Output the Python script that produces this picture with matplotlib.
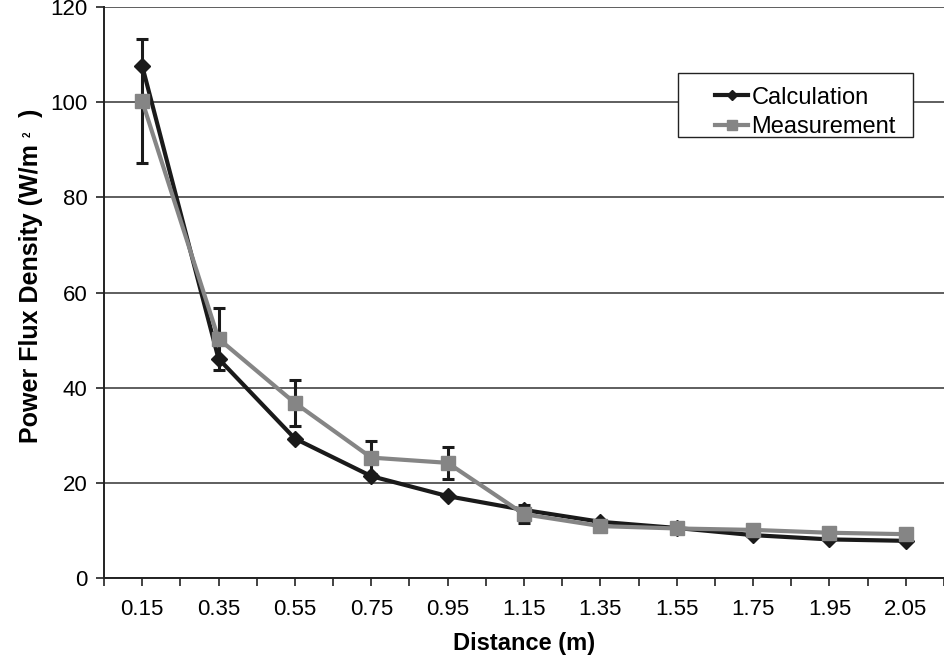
import matplotlib.pyplot as plt
from matplotlib.patches import Rectangle
import numpy as np

plt.rcParams['font.family'] = ['Liberation Sans', 'DejaVu Sans']

# distances (m) shown as categories on the x axis
distances = ['0.15', '0.35', '0.55', '0.75', '0.95', '1.15', '1.35', '1.55', '1.75', '1.95', '2.05']

# values (W/m2)
calculation = [107.7, 46.1, 29.3, 21.4, 17.2, 14.3, 11.8, 10.5, 9.0, 8.1, 7.8]
measurement = [100.3, 50.3, 36.8, 25.3, 24.2, 13.4, 10.9, 10.4, 10.1, 9.5, 9.2]
meas_error = [13.0, 6.5, 4.9, 3.4, 3.3, 1.9, 0.8, 0.6, 0.7, 0.6, 0.6]

x = np.arange(len(distances))

fig = plt.figure(figsize=(9.45, 6.56), dpi=100)
ax = fig.add_axes([0.110, 0.119, 0.889, 0.870])

# error bars of the measurement, under the lines
ax.errorbar(x, measurement, yerr=meas_error, fmt='none', ecolor='#1a1a1a',
            elinewidth=2.2, capsize=4.5, capthick=2.2, zorder=2)

ax.plot(x, calculation, color='#1a1a1a', lw=3, marker='D', ms=8,
        label='Calculation', zorder=3)
ax.plot(x, measurement, color='#858585', lw=3, marker='s', ms=10,
        label='Measurement', zorder=4)

ax.set_xlim(-0.5, len(distances) - 0.58)
ax.set_ylim(0, 120)
ax.set_yticks(range(0, 121, 20))
ax.set_xticks(x)
ax.set_xticklabels(distances)
ax.set_xticks(np.arange(-0.5, len(distances), 1.0), minor=True)
ax.tick_params(axis='x', which='both', direction='out', length=6, width=1.2, color='#222222')
ax.tick_params(axis='x', which='major', labelsize=16, pad=9)
ax.tick_params(axis='y', direction='out', length=6, width=1.2, labelsize=16, pad=6, color='#222222')

ax.yaxis.grid(True, color='#333333', lw=1.1)
ax.set_axisbelow(True)
for side in ['top', 'right']:
    ax.spines[side].set_visible(False)
for side in ['left', 'bottom']:
    ax.spines[side].set_color('#222222')
    ax.spines[side].set_linewidth(1.4)

ax.set_xlabel('Distance (m)', fontsize=17, fontweight='bold', labelpad=9)

# y label in three pieces: the original has the "2" floating in a gap before ")"
fig.text(31 / 945, 1 - 443 / 656, 'Power Flux Density (W/m', fontsize=18, fontweight='bold',
         rotation=90, ha='center', va='bottom')
fig.text(28 / 945, 1 - 134 / 656, '2', fontsize=7, fontweight='bold', rotation=90,
         ha='center', va='center')
fig.text(31 / 945, 1 - 109 / 656, ')', fontsize=18, fontweight='bold',
         rotation=90, ha='center', va='top')

# legend box drawn by hand so the padding matches the original
box = Rectangle((0.7175, 0.7912), 0.2487, 0.0976, transform=fig.transFigure,
                facecolor='white', edgecolor='#222222', lw=1.0, zorder=5)
ax.add_patch(box)
leg = ax.legend(loc='upper left', bbox_to_anchor=(0.7566, 0.868), bbox_transform=fig.transFigure,
                fontsize=17, frameon=False, handlelength=1.4, handletextpad=0.15,
                borderpad=0, labelspacing=0.33, borderaxespad=0, markerscale=0.7)
leg.set_zorder(6)

fig.savefig('out.png', dpi=100)
